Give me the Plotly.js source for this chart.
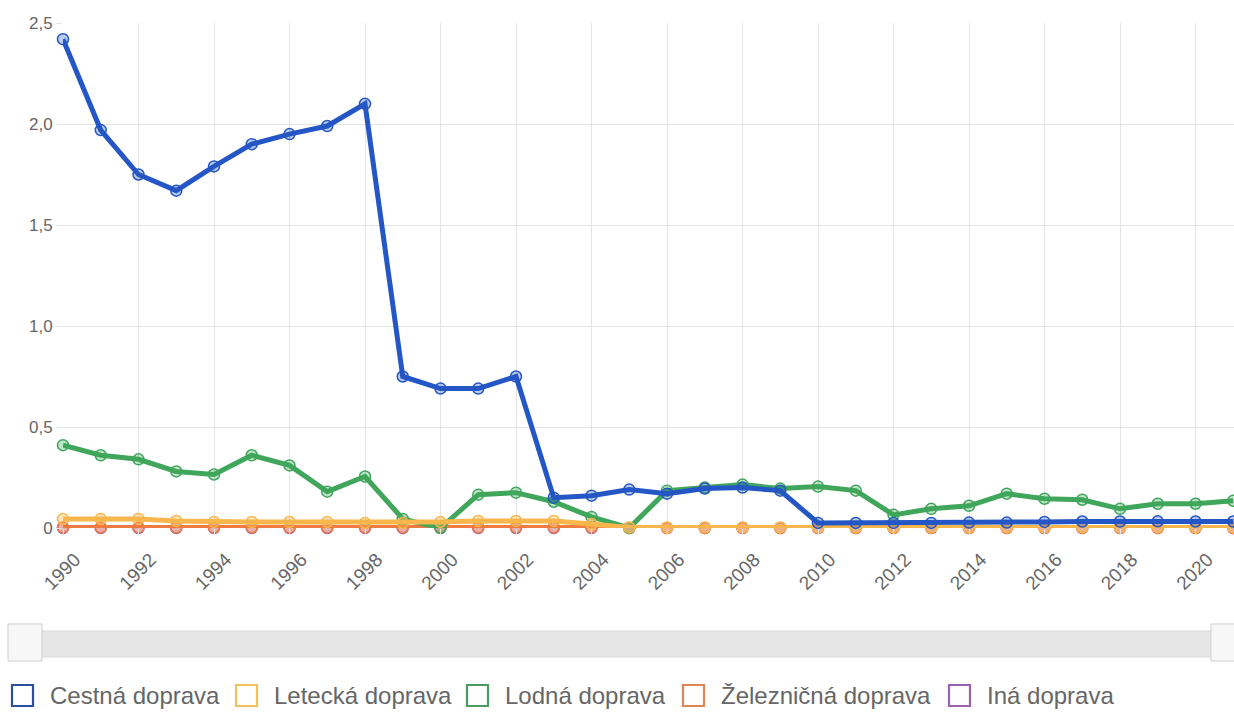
<!DOCTYPE html>
<html>
<head>
<meta charset="utf-8">
<script src="https://cdn.plot.ly/plotly-3.0.1.min.js"></script>
<style>html,body{margin:0;padding:0;background:#fff;}#chart{width:1234px;height:714px;}</style>
</head>
<body>
<div id="chart"></div>
<script>
const years = [1990,1991,1992,1993,1994,1995,1996,1997,1998,1999,2000,2001,2002,2003,2004,2005,2006,2007,2008,2009,2010,2011,2012,2013,2014,2015,2016,2017,2018,2019,2020,2021];
const cestna = [2.42,1.97,1.75,1.67,1.79,1.90,1.95,1.99,2.10,0.75,0.69,0.69,0.75,0.15,0.16,0.19,0.17,0.195,0.20,0.185,0.025,0.025,0.025,0.025,0.027,0.027,0.03,0.032,0.032,0.033,0.032,0.032];
const letecka = [0.045,0.045,0.045,0.035,0.03,0.03,0.03,0.03,0.025,0.025,0.03,0.035,0.035,0.035,0.02,0.003,0.003,0.003,0.003,0.003,0.003,0.003,0.003,0.003,0.003,0.003,0.003,0.003,0.003,0.003,0.003,0.003];
const lodna = [0.41,0.36,0.34,0.28,0.265,0.36,0.31,0.18,0.255,0.045,0.0,0.165,0.175,0.13,0.055,0.0,0.185,0.20,0.215,0.195,0.205,0.185,0.065,0.095,0.11,0.17,0.145,0.14,0.095,0.12,0.12,0.135];
const zeleznicna = [0.003,0.003,0.003,0.003,0.003,0.003,0.003,0.003,0.003,0.003,0.003,0.003,0.003,0.003,0.003,0.0,0.0,0.0,0.0,0.0,0.0,0.0,0.0,0.0,0.0,0.0,0.0,0.0,0.0,0.0,0.0,0.0];
const ina = [0,0,0,0,0,0,0,0,0,0,0,0,0,0,0,0,0,0,0,0,0,0,0,0,0,0,0,0,0,0,0,0];

const seriesNames = ["Cestná doprava","Letecká doprava","Lodná doprava","Železničná doprava","Iná doprava"];
const seriesData = [cestna, letecka, lodna, zeleznicna, ina];
const lineColors = ["#2457c5","#f8b64c","#3fa65b","#f07b40","#9b59b6"];
const fillColors = ["rgba(36,87,197,0.3)","rgba(248,182,76,0.35)","rgba(63,166,91,0.3)","rgba(240,123,64,0.35)","rgba(155,89,182,0.3)"];
const legendColors = ["#2b4f9e","#f0c25e","#4a9a62","#e0845a","#9b62b0"];

const yTickVals = [0,0.5,1.0,1.5,2.0,2.5];
const yTickText = ["0","0,5","1,0","1,5","2,0","2,5"];

const traces = [];
for (let i = seriesData.length - 1; i >= 0; i--) {
  traces.push({
    x: years, y: seriesData[i], name: seriesNames[i],
    type: 'scatter', mode: 'lines+markers', showlegend: false,
    cliponaxis: false,
    line: {color: lineColors[i], width: 5},
    marker: {size: 11, color: fillColors[i], line: {color: lineColors[i], width: 1.5}},
    hoverinfo: 'x+y+name'
  });
}

const W = 1234, H = 714, ml = 63, mr = 0, mt = 23, mb = 186;
const pw = W - ml - mr, ph = H - mt - mb;
const px = v => (v - ml) / pw;
const py = v => (H - mb - v) / ph;

const legendBoxX = [12, 236, 467, 683, 949];
const legendTop = 685, legendBox = 21;

const shapes = [
  {type: 'rect', xref: 'paper', yref: 'paper', x0: px(10), x1: px(1234), y0: py(657), y1: py(631),
   fillcolor: '#e6e6e6', line: {color: '#dadada', width: 1}, layer: 'above'},
  {type: 'rect', xref: 'paper', yref: 'paper', x0: px(8), x1: px(42), y0: py(661), y1: py(624),
   fillcolor: '#f7f7f7', line: {color: '#cfcfcf', width: 1}, layer: 'above'},
  {type: 'rect', xref: 'paper', yref: 'paper', x0: px(1211), x1: px(1240), y0: py(661), y1: py(624),
   fillcolor: '#f7f7f7', line: {color: '#cfcfcf', width: 1}, layer: 'above'}
];
const annotations = [];
seriesNames.forEach((name, i) => {
  const L = legendBoxX[i];
  shapes.push({type: 'rect', xref: 'paper', yref: 'paper',
    x0: px(L), x1: px(L + legendBox), y0: py(legendTop + legendBox), y1: py(legendTop),
    fillcolor: 'rgba(255,255,255,0)', line: {color: legendColors[i], width: 2.2}, layer: 'above'});
  annotations.push({xref: 'paper', yref: 'paper', x: px(L + 36), y: py(legendTop + legendBox / 2),
    xanchor: 'left', yanchor: 'middle', showarrow: false, text: name,
    font: {size: 24, color: '#666', family: 'Arial, "Liberation Sans", sans-serif'}});
});

const layout = {
  width: W, height: H,
  margin: {l: ml, r: mr, t: mt, b: mb},
  paper_bgcolor: '#fff', plot_bgcolor: '#fff',
  font: {family: 'Arial, "Liberation Sans", sans-serif', size: 17, color: '#666'},
  showlegend: false,
  xaxis: {range: [1990, 2021.02], dtick: 2, tick0: 1990, tickangle: -45,
          showgrid: true, gridcolor: '#e4e4e4', gridwidth: 1, zeroline: false, showline: false,
          ticks: 'outside', ticklen: 6, tickcolor: '#e4e4e4', tickfont: {size: 19, color: '#666'},
          ticklabelshift: 12, ticklabelstandoff: 6, automargin: false},
  yaxis: {range: [0, 2.5], tickvals: yTickVals, ticktext: yTickText,
          showgrid: true, gridcolor: '#e4e4e4', gridwidth: 1, zeroline: false, showline: false,
          ticks: 'outside', ticklen: 6, tickcolor: '#e4e4e4', tickfont: {size: 17, color: '#666'}, automargin: false},
  shapes: shapes,
  annotations: annotations
};

Plotly.newPlot('chart', traces, layout, {displayModeBar: false, staticPlot: true});
</script>
</body>
</html>
